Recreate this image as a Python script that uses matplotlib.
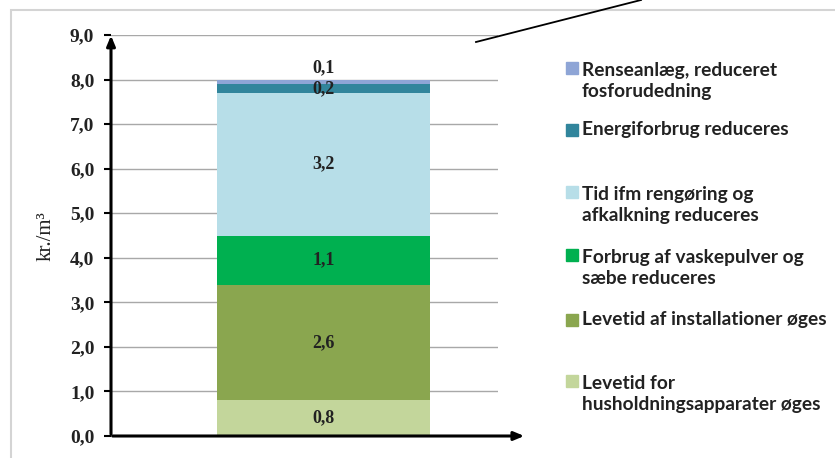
import matplotlib.pyplot as plt
from matplotlib.patches import Rectangle
from matplotlib.lines import Line2D

# segment values, bottom to top
labels = ['Levetid for\nhusholdningsapparater øges',
          'Levetid af installationer øges',
          'Forbrug af vaskepulver og\nsæbe reduceres',
          'Tid ifm rengøring og\nafkalkning reduceres',
          'Energiforbrug reduceres',
          'Renseanlæg, reduceret\nfosforudedning']
values = [0.8, 2.6, 1.1, 3.2, 0.2, 0.1]
colors = ['#C3D69B', '#8AA64F', '#00B050', '#B7DEE8', '#31859C', '#8EA5D6']
yticks = [0, 1, 2, 3, 4, 5, 6, 7, 8, 9]

fig = plt.figure(figsize=(8.35, 4.58), dpi=100)
ax = fig.add_axes([111/835, 22/458, 387/835, 401/458])

ax.set_xlim(0, 1)
ax.set_ylim(0, 9)

bottom = 0
for v, c in zip(values, colors):
    ax.bar(0.549, v, width=0.55, bottom=bottom, color=c, zorder=2)
    mid = bottom + v / 2
    txt = f'{v:.1f}'.replace('.', ',')
    if v == values[-1]:
        mid = bottom + v + 0.27
    ax.text(0.549, mid, txt, ha='center', va='center', fontsize=13,
            family='Liberation Serif', fontweight='bold', color='#222222', zorder=3)
    bottom += v

ax.set_yticks(yticks)
ax.set_yticklabels([f'{t:.1f}'.replace('.', ',') for t in yticks],
                   family='Liberation Serif', fontweight='bold', fontsize=14, color='#222222')
ax.set_xticks([])
ax.tick_params(axis='y', length=5, width=1.5, color='black', pad=7)
ax.grid(axis='y', color='#a8a8a8', lw=1, zorder=0)
for s in ax.spines.values():
    s.set_visible(False)

# axis arrows
ax.annotate('', xy=(0, 9.05), xytext=(0, -0.02),
            xycoords=('axes fraction', 'data'),
            arrowprops=dict(arrowstyle='-|>,head_width=0.25,head_length=0.6', lw=2.2, color='black'),
            annotation_clip=False)
ax.annotate('', xy=(1.075, 0), xytext=(-0.003, 0),
            xycoords=('axes fraction', 'data'),
            arrowprops=dict(arrowstyle='-|>,head_width=0.25,head_length=0.6', lw=2.2, color='black'),
            annotation_clip=False)

fig.text(46/835, 1 - 236/458, 'kr./m³', rotation=90, ha='center', va='center',
         family='Liberation Serif', fontsize=15, color='#222222')

# legend drawn by hand, top entry first
leg_y = [81, 130, 205, 268, 320, 394]
for lab, c, y in zip(labels[::-1], colors[::-1], leg_y):
    nlines = lab.count('\n') + 1
    first = y - (nlines - 1) * 13.5
    fig.patches.append(Rectangle((566/835, 1 - (first + 6)/458), 12/835, 12/458,
                                 transform=fig.transFigure, color=c))
    fig.text(582/835, 1 - y/458, lab, ha='left', va='center', fontsize=13.8,
             family='Lato', fontweight='bold', color='#222222', linespacing=1.3)

# outer frame and callout line
fig.patches.append(Rectangle((11/835, -0.05), 0.99, 1 - 10/458 + 0.05,
                             transform=fig.transFigure, fill=False,
                             edgecolor='#d4d4d4', lw=1.5))
fig.lines.append(Line2D([476/835, 641/835], [1 - 42/458, 1.0],
                        transform=fig.transFigure, color='black', lw=1.3))

fig.savefig('out.png', dpi=100)
